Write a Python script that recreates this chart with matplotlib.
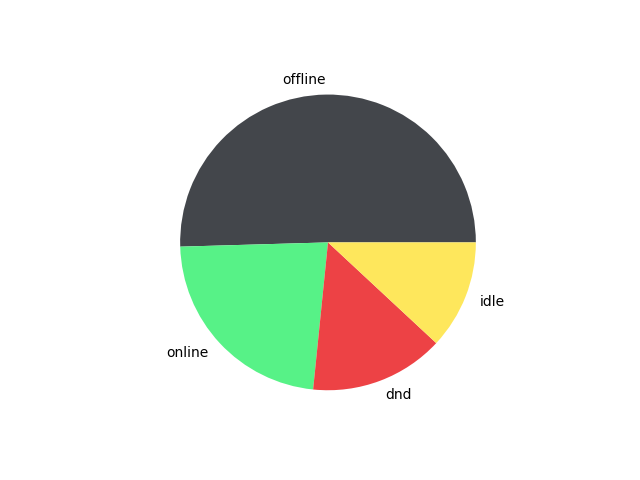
import matplotlib
matplotlib.use("Agg")
import matplotlib.pyplot as plt

labels = ["offline", "online", "dnd", "idle"]
counts = [55, 25, 16, 13]
colors = ["#43464B", "#57F287", "#ED4245", "#FEE75C"]

fig, ax = plt.subplots(figsize=(6.4, 4.8), dpi=100)
ax.pie(counts, labels=labels, colors=colors)
fig.savefig("out.png")
